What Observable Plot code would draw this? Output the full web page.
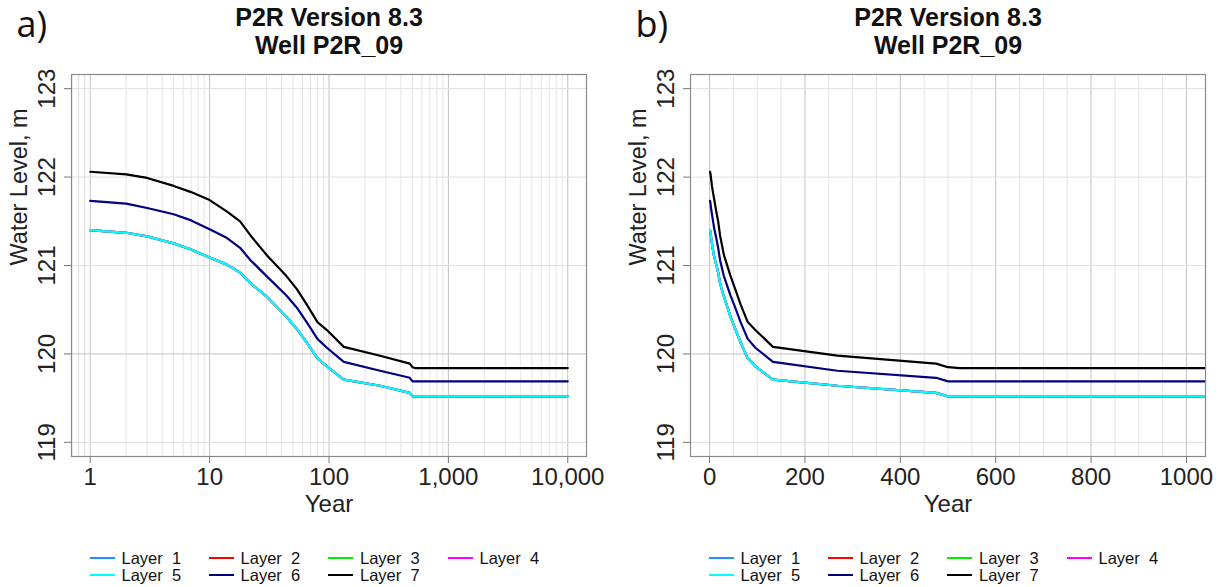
<!DOCTYPE html>
<html><head><meta charset="utf-8">
<script src="https://cdn.jsdelivr.net/npm/d3@7"></script>
<script src="https://cdn.jsdelivr.net/npm/@observablehq/plot@0.6"></script>
<style>
html,body{margin:0;padding:0;background:#fff;}
#wrap{position:relative;width:1225px;height:587px;overflow:hidden;font-family:"Liberation Sans",Arial,sans-serif;background:#fff;}
.panel{position:absolute;top:0;width:606px;height:587px;}
.leg{position:absolute;display:flex;align-items:center;height:16px;font-size:16.5px;color:#111;white-space:pre;line-height:16px;}
.leg i{display:inline-block;width:25px;height:2.5px;margin-right:7px;}
</style></head>
<body>
<div id="wrap"><div class="panel" id="pa" style="left:0"></div><div class="panel" id="pb" style="left:619px"></div></div>
<script>
// ---- data ----
const years  = [1, 2, 3, 5, 7, 10, 14, 18, 22, 30, 44, 54, 65, 80, 96, 133, 268, 475, 500, 525, 10000];
const layer1 = [121.40,121.37,121.33,121.25,121.18,121.09,121.01,120.92,120.80,120.65,120.42,120.28,120.13,119.95,119.86,119.71,119.64,119.56,119.52,119.52,119.52];
const layer2 = [121.40,121.37,121.33,121.25,121.18,121.09,121.01,120.92,120.80,120.65,120.42,120.28,120.13,119.95,119.86,119.71,119.64,119.56,119.52,119.52,119.52];
const layer3 = [121.40,121.37,121.33,121.25,121.18,121.09,121.01,120.92,120.80,120.65,120.42,120.28,120.13,119.95,119.86,119.71,119.64,119.56,119.52,119.52,119.52];
const layer4 = [121.40,121.37,121.33,121.25,121.18,121.09,121.01,120.92,120.80,120.65,120.42,120.28,120.13,119.95,119.86,119.71,119.64,119.56,119.52,119.52,119.52];
const layer5 = [121.40,121.37,121.33,121.25,121.18,121.09,121.01,120.92,120.80,120.65,120.42,120.28,120.13,119.95,119.86,119.71,119.64,119.56,119.52,119.52,119.52];
const layer6 = [121.73,121.70,121.65,121.58,121.51,121.41,121.31,121.20,121.06,120.88,120.66,120.52,120.36,120.17,120.07,119.91,119.81,119.73,119.69,119.69,119.69];
const layer7 = [122.06,122.03,121.99,121.90,121.83,121.74,121.61,121.50,121.34,121.12,120.88,120.73,120.56,120.36,120.27,120.08,119.98,119.89,119.85,119.84,119.84];
const layerNames  = ["Layer  1","Layer  2","Layer  3","Layer  4","Layer  5","Layer  6","Layer  7"];
const layerColors = ["#1E90FF","#FF0000","#00EE00","#FF00FF","#00FFFF","#000080","#000000"];
const yTicks   = [119, 120, 121, 122, 123];
const logTicks = [1, 10, 100, 1000, 10000];
const linTicks = [0, 200, 400, 600, 800, 1000];
const titleLine1 = "P2R Version 8.3";
const titleLine2 = "Well P2R_09";
const yLabel = "Water Level, m";
const xLabel = "Year";

// ---- build table ----
const series = [layer1, layer2, layer3, layer4, layer5, layer6, layer7];
const rows = series.flatMap((vals, i) => years.map((t, j) => ({t, v: vals[j], layer: layerNames[i]})));

const logMinor = d3.range(-1, 4).flatMap(e => d3.range(2, 10).map(m => +(m * Math.pow(10, e)).toPrecision(3)))
  .filter(d => d >= 0.7).concat([0.7, 0.8, 0.9]);
const linMinor = d3.range(0, 1041, 50).filter(d => d % 200 !== 0);

function panel(el, cfg) {
  const marks = [
    Plot.gridX({ticks: cfg.minor, stroke: "#e4e4e4", strokeOpacity: 1}),
    Plot.gridX({ticks: cfg.major, stroke: "#c2c2c2", strokeOpacity: 1}),
    Plot.gridY({ticks: [119, 121, 122, 123], stroke: "#e0e0e0", strokeOpacity: 1}),
    Plot.gridY({ticks: [120], stroke: "#c2c2c2", strokeOpacity: 1}),
    Plot.line(rows, {x: "t", y: "v", z: "layer", stroke: "layer", strokeWidth: 2.2, clip: true}),
    Plot.frame({stroke: "#8a8a8a", strokeWidth: 1.2}),
    Plot.axisX({ticks: cfg.major, tickFormat: cfg.fmt, tickSize: 7, tickPadding: 4, fontSize: 24, stroke: "#777", fill: "#222", label: null}),
    Plot.axisY({ticks: yTicks, tickFormat: d3.format("d"), tickSize: 7, tickPadding: 10, tickRotate: -90, fontSize: 24, stroke: "#777", fill: "#222", label: null}),
    Plot.text([yLabel], {text: d => d, frameAnchor: "left", dx: -45, rotate: -90, lineAnchor: "bottom", fontSize: 23.5, fill: "#222"}),
    Plot.text([xLabel], {text: d => d, frameAnchor: "bottom", dy: 55, lineAnchor: "bottom", fontSize: 24, fill: "#222"}),
    Plot.text([titleLine1], {text: d => d, frameAnchor: "top", dy: -49, lineAnchor: "bottom", fontSize: 25, fontWeight: "bold", fill: "#111"}),
    Plot.text([titleLine2], {text: d => d, frameAnchor: "top", dy: -21, lineAnchor: "bottom", fontSize: 25, fontWeight: "bold", fill: "#111"}),
    Plot.text([cfg.tag], {text: d => d, frameAnchor: "top-left", dx: -55, dy: -38, textAnchor: "start", lineAnchor: "bottom", fontSize: 36, fontFamily: "Open Sans", fill: "#111"})
  ];
  const svg = Plot.plot({
    width: 606, height: 587,
    marginTop: 74, marginBottom: 131, marginLeft: 71, marginRight: 20,
    x: cfg.x,
    y: {domain: [118.84, 123.16]},
    color: {domain: layerNames, range: layerColors},
    style: {fontFamily: "'Liberation Sans', Arial, sans-serif", fontSize: "16px", background: "white", color: "#222"},
    marks
  });
  el.appendChild(svg);
  // legend
  const colX = [89.5, 208.6, 328, 447.5];
  const rowY = [558, 575];
  layerNames.forEach((name, i) => {
    const d = document.createElement("div");
    d.className = "leg";
    d.style.left = colX[i % 4] + "px";
    d.style.top = (rowY[Math.floor(i / 4)] - 8) + "px";
    const sw = document.createElement("i");
    sw.style.background = layerColors[i];
    d.appendChild(sw);
    d.appendChild(document.createTextNode(name));
    el.appendChild(d);
  });
}

panel(document.getElementById("pa"), {
  x: {type: "log", domain: [Math.pow(10, -0.157), Math.pow(10, 4.157)]},
  major: logTicks, minor: logMinor, fmt: d3.format(","), tag: "a)"
});
panel(document.getElementById("pb"), {
  x: {type: "linear", domain: [-40, 1040]},
  major: linTicks, minor: linMinor, fmt: d => String(d), tag: "b)"
});
</script>
</body></html>
